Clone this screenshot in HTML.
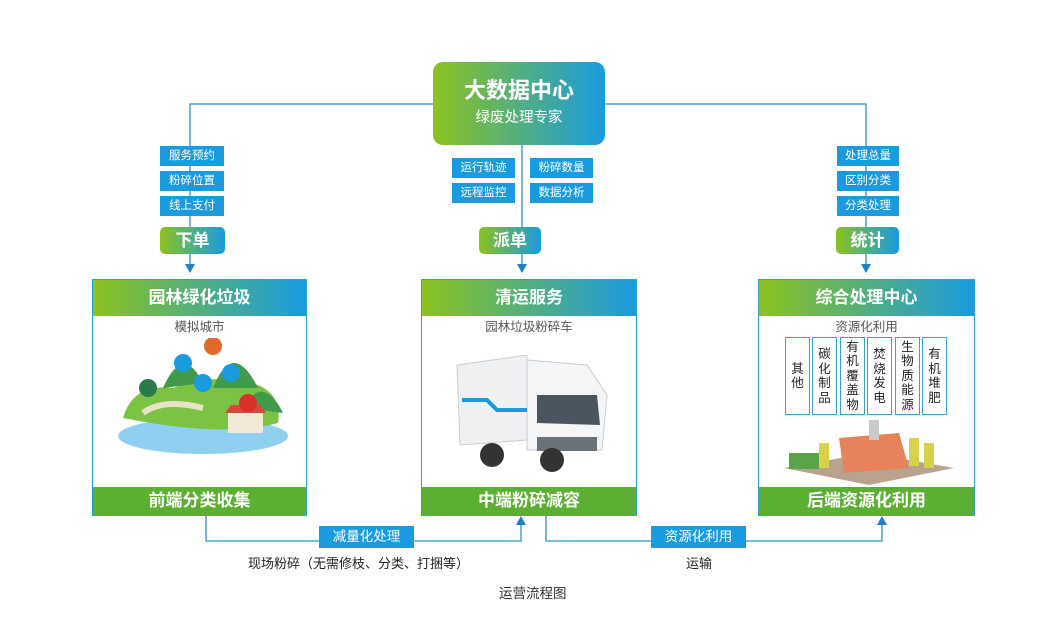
<!DOCTYPE html>
<html><head><meta charset="utf-8"><style>
*{margin:0;padding:0;box-sizing:border-box}
body{width:1061px;height:619px;background:#fff;position:relative;overflow:hidden;font-family:"Liberation Sans","Noto Sans CJK SC",sans-serif}
.a{position:absolute}
.g{background:linear-gradient(90deg,#8cc21f,#1a9be0)}
.tag{position:absolute;background:#1a9be0;color:#fff;font-size:11.5px;text-align:center;line-height:20px;height:20px}
.pill{position:absolute;color:#fff;font-size:17px;font-weight:bold;text-align:center;line-height:27px;height:27px;border-radius:5px}
.panel{position:absolute;border:1.5px solid #2a9fd8;background:#fff}
.ph{position:absolute;left:0;right:0;top:0;height:36px;color:#fff;font-size:17px;font-weight:bold;text-align:center;line-height:36px}
.pf{position:absolute;left:0;right:0;bottom:0;height:28px;background:#5cb031;color:#fff;font-size:17px;font-weight:bold;text-align:center;line-height:28px}
.sub{position:absolute;left:0;right:0;top:39px;line-height:16px;text-align:center;font-size:12.5px;color:#555}
.vb{position:absolute;top:57px;width:25px;height:78px;border:1.5px solid #3aa0d8;font-size:12.5px;color:#222;text-align:center;line-height:14.5px;display:flex;align-items:center;justify-content:center;background:#fff}
</style></head><body>
<svg class="a" style="left:0;top:0" width="1061" height="619">
<g stroke="#2a8fcf" stroke-width="1.3" fill="none">
<path d="M433 104H190V266"/><path d="M605 104H866V266"/><path d="M522 145V266"/>
<path d="M206 516V541H521V522"/><path d="M546 516V541H882V522"/>
</g>
<g fill="#1e7fc4">
<path d="M185 264h10l-5 9z"/><path d="M861 264h10l-5 9z"/><path d="M517 264h10l-5 9z"/>
<path d="M516 525h10l-5 -9z"/><path d="M877 525h10l-5 -9z"/>
</g>
</svg>
<div class="a g" style="left:433px;top:62px;width:172px;height:83px;border-radius:10px;color:#fff;text-align:center">
<div style="font-size:22px;font-weight:bold;margin-top:16px;line-height:26px">大数据中心</div>
<div style="font-size:14.5px;margin-top:2px">绿废处理专家</div></div>
<div class="tag" style="left:160px;top:146px;width:64px">服务预约</div>
<div class="tag" style="left:160px;top:171px;width:64px">粉碎位置</div>
<div class="tag" style="left:160px;top:196px;width:64px">线上支付</div>
<div class="pill g" style="left:160px;top:227px;width:65px">下单</div>
<div class="tag" style="left:452px;top:158px;width:63px">运行轨迹</div>
<div class="tag" style="left:452px;top:183px;width:63px">远程监控</div>
<div class="tag" style="left:530px;top:158px;width:63px">粉碎数量</div>
<div class="tag" style="left:530px;top:183px;width:63px">数据分析</div>
<div class="pill g" style="left:479px;top:227px;width:62px">派单</div>
<div class="tag" style="left:837px;top:146px;width:62px">处理总量</div>
<div class="tag" style="left:837px;top:171px;width:62px">区别分类</div>
<div class="tag" style="left:837px;top:196px;width:62px">分类处理</div>
<div class="pill g" style="left:836px;top:227px;width:63px">统计</div>

<div class="panel" style="left:92px;top:279px;width:215px;height:237px">
<div class="ph g">园林绿化垃圾</div><div class="sub">模拟城市</div>
<svg class="a" style="left:10px;top:58px" width="195" height="120">
<ellipse cx="100" cy="98" rx="85" ry="18" fill="#8fd0f0"/>
<path d="M20 80 Q30 45 70 50 Q110 35 150 45 Q180 55 175 85 Q120 100 20 80z" fill="#7cc243"/>
<path d="M60 50 Q80 5 100 45z M110 50 Q130 0 155 50z M140 70 Q160 35 180 75z" fill="#3f9a4a"/>
<path d="M40 75 Q60 60 100 70" stroke="#e8e3c8" stroke-width="6" fill="none"/>
<rect x="125" y="75" width="35" height="20" fill="#f3e9d8"/><path d="M122 75h41l-6-8h-29z" fill="#d9473a"/>
<circle cx="45" cy="50" r="9" fill="#2a7a4a"/><circle cx="80" cy="25" r="9" fill="#1a9be0"/><circle cx="110" cy="8" r="9" fill="#e06a2b"/><circle cx="128" cy="35" r="9" fill="#1a9be0"/><circle cx="100" cy="45" r="9" fill="#1a9be0"/><circle cx="145" cy="65" r="9" fill="#d9312a"/>
</svg>
<div class="pf">前端分类收集</div></div>

<div class="panel" style="left:421px;top:279px;width:216px;height:237px">
<div class="ph g">清运服务</div><div class="sub">园林垃圾粉碎车</div>
<svg class="a" style="left:30px;top:75px" width="160" height="120">
<path d="M5 10 L75 0 L75 85 L8 90z" fill="#eef0f2" stroke="#c9cdd2"/>
<path d="M75 5 L135 10 L155 40 L150 95 L75 95z" fill="#f4f5f6" stroke="#c9cdd2"/>
<path d="M85 40 L145 40 L148 70 L85 68z" fill="#4a5560"/>
<rect x="85" y="82" width="60" height="14" fill="#6b7178"/>
<path d="M10 45 L35 45 L45 55 L75 55" stroke="#1a9be0" stroke-width="4" fill="none"/>
<circle cx="40" cy="100" r="12" fill="#333"/><circle cx="100" cy="105" r="12" fill="#333"/>
</svg>
<div class="pf">中端粉碎减容</div></div>

<div class="panel" style="left:758px;top:279px;width:217px;height:237px">
<div class="ph g">综合处理中心</div><div class="sub">资源化利用</div>
<svg class="a" style="left:20px;top:138px" width="180" height="70">
<path d="M5 50 L90 35 L175 50 L90 67z" fill="#b8a48e"/>
<path d="M60 20 L120 15 L130 50 L65 55z" fill="#e7825a"/>
<rect x="90" y="2" width="10" height="20" fill="#c9c9c9"/>
<rect x="130" y="20" width="10" height="28" fill="#d8d14a"/><rect x="145" y="25" width="10" height="25" fill="#d8d14a"/><rect x="40" y="25" width="10" height="25" fill="#d8d14a"/>
<rect x="10" y="35" width="30" height="16" fill="#5aa347"/>
</svg>
<div class="vb" style="left:26px">其<br>他</div>
<div class="vb" style="left:53px">碳<br>化<br>制<br>品</div>
<div class="vb" style="left:81px">有<br>机<br>覆<br>盖<br>物</div>
<div class="vb" style="left:108px">焚<br>烧<br>发<br>电</div>
<div class="vb" style="left:136px">生<br>物<br>质<br>能<br>源</div>
<div class="vb" style="left:163px">有<br>机<br>堆<br>肥</div>
<div class="pf">后端资源化利用</div></div>

<div class="tag" style="left:319px;top:526px;width:95px;height:22px;line-height:22px;font-size:13.5px">减量化处理</div>
<div class="tag" style="left:651px;top:526px;width:95px;height:22px;line-height:22px;font-size:13.5px">资源化利用</div>
<div class="a" style="left:248px;top:553px;font-size:13px;color:#222">现场粉碎（无需修枝、分类、打捆等）</div>
<div class="a" style="left:686px;top:553px;font-size:13px;color:#222">运输</div>
<div class="a" style="left:499px;top:582px;font-size:13.5px;color:#333">运营流程图</div>
</body></html>
